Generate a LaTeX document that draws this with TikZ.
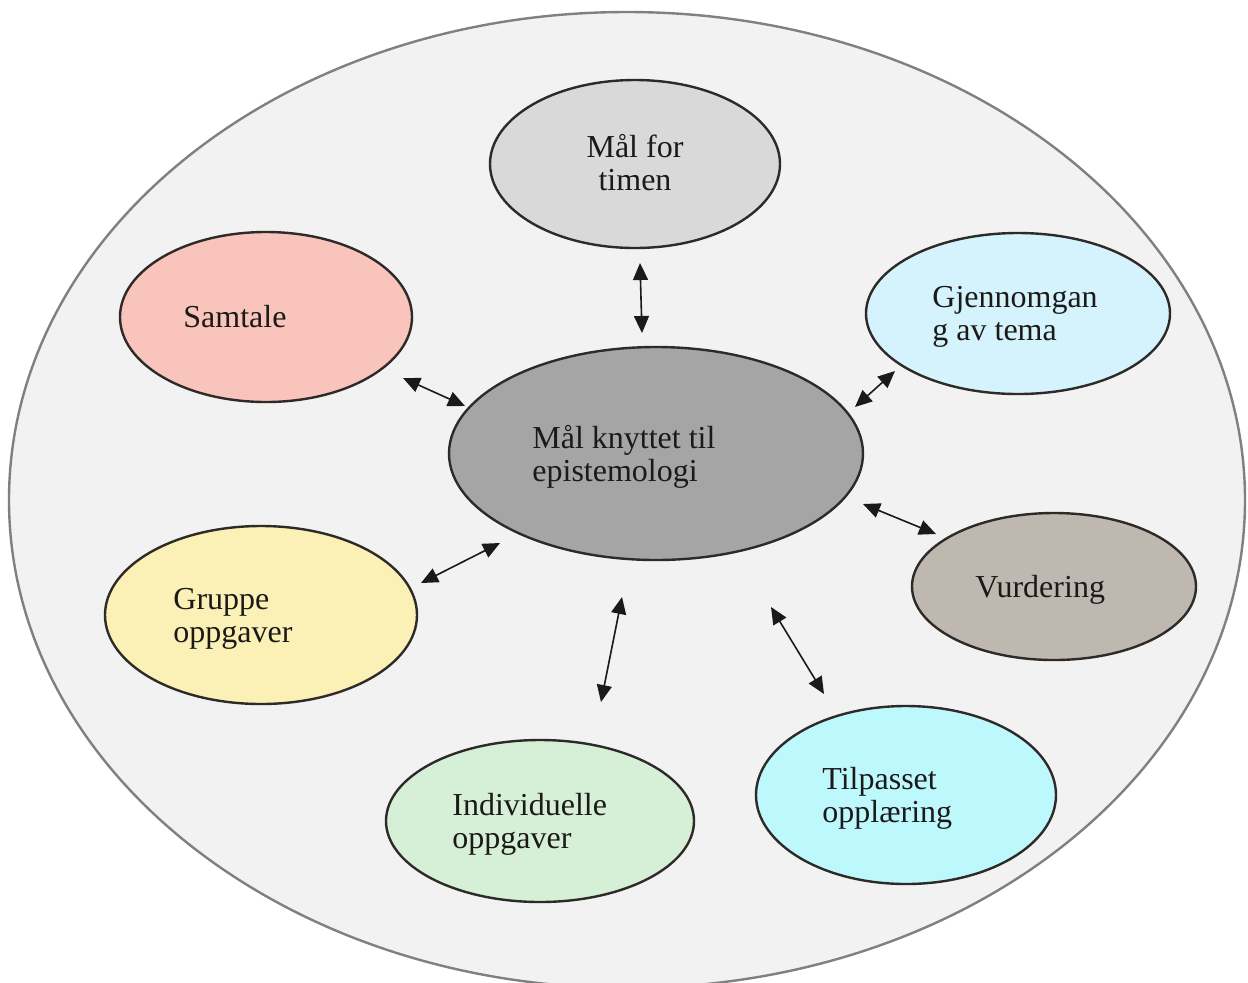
\documentclass[tikz,border=0pt]{standalone}
\usepackage{fontspec}
\setmainfont{Liberation Serif}
\usetikzlibrary{shapes.geometric,arrows.meta}

\definecolor{pagebg}{HTML}{F2F2F2}
\definecolor{rimgray}{HTML}{808080}
\definecolor{edge}{HTML}{2E2A28}
\definecolor{ink}{HTML}{1C1A19}
\definecolor{cTimen}{HTML}{D9D9D9}
\definecolor{cSamtale}{HTML}{F8C4BC}
\definecolor{cTema}{HTML}{D4F3FD}
\definecolor{cCentre}{HTML}{A5A5A5}
\definecolor{cVurd}{HTML}{BEB8B1}
\definecolor{cGruppe}{HTML}{FBF1B6}
\definecolor{cIndiv}{HTML}{D5F0D6}
\definecolor{cTilp}{HTML}{BDF8FD}

\tikzset{
  bubble/.style={ellipse, draw=edge, line width=1.2pt, inner sep=0pt},
  txt/.style={inner sep=0pt, anchor=base west, text=ink,
              font=\fontsize{16}{16.5}\selectfont},
  conn/.style={>={Triangle[length=8.5pt,width=7.5pt]}, <->,
               line width=0.8pt, draw=ink},
}

\begin{document}
\begin{tikzpicture}[x=0.5pt,y=-0.5pt]
  % canvas: one unit = one pixel of a 1248 x 982 sheet
  \useasboundingbox (0,0) rectangle (1248,982);
  \clip (0,0) rectangle (1248,982);

  % large surrounding ellipse
  \node[ellipse, fill=pagebg, draw=rimgray, line width=1.2pt, inner sep=0pt,
        minimum width=618pt, minimum height=488pt] (outer) at (627,500) {};

  % topic ellipses (minimum width/height in pt equal the radii in units)
  \node[bubble, fill=cTimen,   minimum width=145pt, minimum height=84pt]   (timen)   at (635,164) {};
  \node[bubble, fill=cSamtale, minimum width=146pt, minimum height=85pt]   (samtale) at (266,317) {};
  \node[bubble, fill=cTema,    minimum width=152pt, minimum height=80.5pt] (tema)    at (1018,313.5) {};
  \node[bubble, fill=cCentre,  minimum width=207pt, minimum height=106.5pt](centre)  at (656,453.5) {};
  \node[bubble, fill=cVurd,    minimum width=142pt, minimum height=73.5pt] (vurd)    at (1054,586.5) {};
  \node[bubble, fill=cGruppe,  minimum width=156pt, minimum height=89pt]   (gruppe)  at (261,615) {};
  \node[bubble, fill=cIndiv,   minimum width=154pt, minimum height=81pt]   (indiv)   at (540,821) {};
  \node[bubble, fill=cTilp,    minimum width=150pt, minimum height=89pt]   (tilp)    at (906,795) {};

  % labels
  \node[txt, anchor=base] (ttimen) at (635,157)
    {\vtop{\hbox to 0pt{\hss Mål for\hss}\hbox to 0pt{\hss timen\hss}}};
  \node[txt] (tsamtale) at (183,327) {Samtale};
  \node[txt] (ttema) at (932,307) {\vtop{\hbox{Gjennomgan}\hbox{g av tema}}};
  \node[txt] (tcentre) at (532,448) {\vtop{\hbox{Mål knyttet til}\hbox{epistemologi}}};
  \node[txt] (tvurd) at (975,597) {Vurdering};
  \node[txt] (tgruppe) at (173,609) {\vtop{\hbox{Gruppe}\hbox{oppgaver}}};
  \node[txt] (tindiv) at (452,815) {\vtop{\hbox{Individuelle}\hbox{oppgaver}}};
  \node[txt] (ttilp) at (822,789) {\vtop{\hbox{Tilpasset}\hbox{opplæring}}};

  % arrow end points between the ellipses
  \coordinate (p1a) at (640,263);  \coordinate (p1b) at (642,333);
  \coordinate (p2a) at (403,378);  \coordinate (p2b) at (465,406);
  \coordinate (p3a) at (855,407);  \coordinate (p3b) at (895,371);
  \coordinate (p4a) at (863,504);  \coordinate (p4b) at (936,534);
  \coordinate (p5a) at (421,583);  \coordinate (p5b) at (500,543);
  \coordinate (p6a) at (622,597);  \coordinate (p6b) at (601,702);
  \coordinate (p7a) at (771,607);  \coordinate (p7b) at (824,694);

  % double-headed connectors
  \draw[conn] (p1a) -- (p1b);
  \draw[conn] (p2a) -- (p2b);
  \draw[conn] (p3a) -- (p3b);
  \draw[conn] (p4a) -- (p4b);
  \draw[conn] (p5a) -- (p5b);
  \draw[conn] (p6a) -- (p6b);
  \draw[conn] (p7a) -- (p7b);
\end{tikzpicture}
\end{document}
